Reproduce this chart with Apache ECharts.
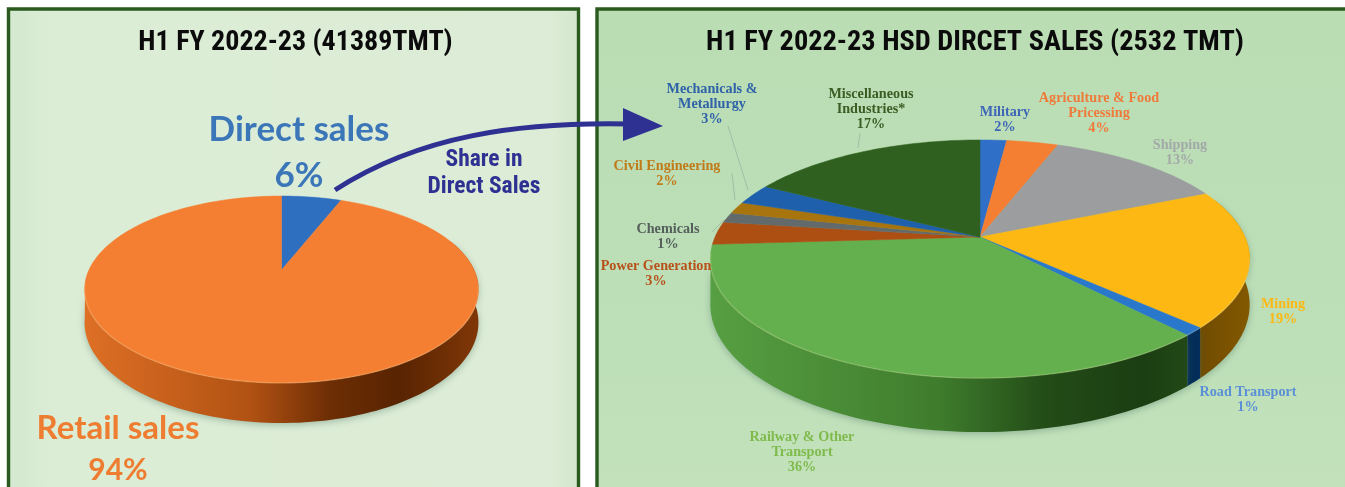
<!DOCTYPE html>
<html><head><meta charset="utf-8">
<style>html,body{margin:0;padding:0;background:#fff}#c{width:1345px;height:487px;filter:blur(0.45px)}</style>
<script src="https://cdn.jsdelivr.net/npm/echarts@6/dist/echarts.min.js"></script>
</head><body><div id="c"></div>
<script>
// ---- data ----
const titleLeft = 'H1 FY 2022-23 (41389TMT)';
const titleRight = 'H1 FY 2022-23 HSD DIRCET SALES (2532 TMT)';
const salesCategories = ['Direct sales', 'Retail sales'];
const salesValues = [6, 94];
const hsdCategories = ['Military', 'Agriculture & Food\nPricessing', 'Shipping', 'Mining', 'Road Transport',
  'Railway & Other\nTransport', 'Power Generation', 'Chemicals', 'Civil Engineering', 'Mechanicals &\nMetallurgy',
  'Miscellaneous\nIndustries*'];
const hsdValues = [1.9, 3.7, 12.8, 18.7, 1.1, 35.8, 3.1, 1.4, 1.6, 2.8, 17.1];

// ---- styles ----
const salesColors = ['#2e6fc0', '#f47f32'];
const hsdColors = ['#2f6fc8', '#f47f32', '#9b9d9e', '#fdb813', '#2a78cc', '#64b04e', '#ad4f12', '#636a6c', '#a8740e', '#1f60ac', '#2f601f'];
const hsdText = ['#3e66b8', '#f07a3a', '#a3a9a8', '#fdb813', '#5b8fd6', '#7fba4c', '#b8501a', '#55605c', '#c07a18', '#2f62a8', '#3b5d24'];
const hsdLabelPos = [[1005,112],[1099,98],[1180,145],[1283,304],[1248,392],[802,437],[656,266],[668,229],[667,166],[712,89],[871,94]];

const geoLeft = {cx:281.5, cy:270, rx:192.6, k:89.4, p:0.2086, h:31.7};
const geoRight = {cx:980, cy:237, rx:265, k:115, p:0.185, h:44};
const wallFrom = 70, wallTo = 261;

function pt(g, deg, down){
  const a = deg*Math.PI/180, u = Math.sin(a), v = Math.cos(a), w = 1+g.p*v;
  return [g.cx+g.rx*u/w, g.cy-g.k*v/w+(down?g.h/w:0)];
}
function arc(g, a0, a1, down){
  const n = Math.max(2, Math.ceil((a1-a0)/1.5)), out=[];
  for(let i=0;i<=n;i++) out.push(pt(g, a0+(a1-a0)*i/n, down));
  return out;
}
function shade(hex,m){
  const n=parseInt(hex.slice(1),16);
  const c=[n>>16,(n>>8)&255,n&255].map(x=>x*m);
  const gray=(c[0]+c[1]+c[2])/3, boost=1+(1-m)*0.7;
  return 'rgb('+c.map(x=>Math.max(0,Math.min(255,Math.round(gray+(x-gray)*boost)))).join(',')+')';
}
function spans(values){
  const total = values.reduce((a,b)=>a+b,0); let acc=0;
  return values.map((v,i)=>{const s=acc; acc+=v; return [s/total*360, acc/total*360, i];});
}
function wallSeries(g, values, colors){
  return {type:'custom', coordinateSystem:'none', z:2, silent:true, data:spans(values),
    renderItem(p,api){
      const a0=Math.max(api.value(0),wallFrom), a1=Math.min(api.value(1),wallTo), base=colors[api.value(2)];
      if(a1<=a0) return null;
      const top=arc(g,a0,a1,false), bot=arc(g,a0,a1,true).reverse();
      return {type:'polygon', shape:{points:top.concat(bot)},
        style:{fill:new echarts.graphic.LinearGradient(g.cx-g.rx*1.02,0,g.cx+g.rx*1.02,0,[
          {offset:0,color:shade(base,.88)},{offset:.42,color:shade(base,.66)},
          {offset:.62,color:shade(base,.38)},{offset:.8,color:shade(base,.30)},{offset:1,color:shade(base,.45)}],true),
          shadowBlur:7, shadowColor:'rgba(70,110,90,.40)', shadowOffsetY:2}};
    }};
}
function topSeries(g, values, colors){
  return {type:'custom', coordinateSystem:'none', z:3, silent:true, data:spans(values),
    renderItem(p,api){
      const a0=api.value(0), a1=api.value(1), base=colors[api.value(2)];
      const kids=[{type:'polygon', shape:{points:[[g.cx,g.cy]].concat(arc(g,a0,a1,false))},
        style:{fill:base, stroke:base, lineWidth:.5}}];
      const r0=Math.max(a0,100), r1=Math.min(a1,262);
      if(r1>r0) kids.push({type:'polyline', shape:{points:arc(g,r0,r1,false)},
        style:{fill:null, stroke:'rgba(255,240,190,.18)', lineWidth:1.6}});
      return {type:'group', children:kids};
    }};
}
function txt(x,y,text,font,size,weight,color,lh){
  return {type:'text', z:100, x, y, style:{text, fontFamily:font, fontSize:size, fontWeight:weight, fill:color,
    align:'center', verticalAlign:'middle', lineHeight:lh||size}};
}
const narrow='"Liberation Sans Narrow","Roboto Condensed","Liberation Sans"';
const serif='"Liberation Serif"';
const graphics=[
  {type:'rect', z:-5, shape:{x:8.5,y:9,width:570,height:490},
    style:{fill:new echarts.graphic.LinearGradient(0,0,1,0,[{offset:0,color:'#d2e8cf'},{offset:.08,color:'#dcedd6'},{offset:.95,color:'#dcecd6'},{offset:1,color:'#d3e6cd'}]),
      stroke:'#2a5a1e', lineWidth:3.4}},
  {type:'rect', z:-5, shape:{x:597,y:9,width:760,height:490},
    style:{fill:new echarts.graphic.LinearGradient(0,0,0,1,[{offset:0,color:'#bbddb4'},{offset:.6,color:'#bcdfb8'},{offset:1,color:'#c3e2bb'}]),
      stroke:'#2a5a1e', lineWidth:3.4}},
  txt(295.5,43,titleLeft,narrow,28,'bold','#0b0b0b'),
  txt(975,43,titleRight,narrow,28.3,'bold','#0b0b0b'),
  txt(299,130,salesCategories[0],'Lato',35,'bold','#3b76b9'),
  txt(299,176,salesValues[0]+'%','Lato',35,'bold','#3b76b9'),
  txt(118,428,salesCategories[1],'Lato',33,'bold','#ee7d31'),
  txt(118,470,salesValues[1]+'%','Lato',30,'bold','#ee7d31'),
  {type:'bezierCurve', z:100, shape:{x1:335,y1:190,cpx1:420,cpy1:135,cpx2:520,cpy2:122,x2:628,y2:124},
    style:{fill:null, stroke:'#2e3192', lineWidth:5}},
  {type:'polygon', z:100, shape:{points:[[623,108],[663,126],[623,141]]}, style:{fill:'#2e3192'}},
  txt(484,160,'Share in',narrow,23.5,'bold','#2e3192'),
  txt(484,187,'Direct Sales',narrow,23.5,'bold','#2e3192')
];
[[[728,126],[748,190]],[[860,133],[858,148]],[[712,232],[724,220]],[[732,173],[735,200]]].forEach(l=>{
  graphics.push({type:'line', z:50, shape:{x1:l[0][0],y1:l[0][1],x2:l[1][0],y2:l[1][1]}, style:{stroke:'rgba(130,150,140,.45)', lineWidth:1}});
});
hsdCategories.forEach((c,i)=>{
  const lines=c.split('\n').concat(Math.round(hsdValues[i])+'%');
  const [x,y]=hsdLabelPos[i];
  lines.forEach((s,j)=>graphics.push(txt(x,y+j*15.2,s,serif,14.2,'bold',hsdText[i])));
});
const chart=echarts.init(document.getElementById('c'),null,{renderer:'canvas'});
chart.setOption({animation:false, backgroundColor:'#ffffff', graphic:{elements:graphics},
  series:[wallSeries(geoLeft,salesValues,salesColors),topSeries(geoLeft,salesValues,salesColors),
          wallSeries(geoRight,hsdValues,hsdColors),topSeries(geoRight,hsdValues,hsdColors)]});
</script></body></html>
